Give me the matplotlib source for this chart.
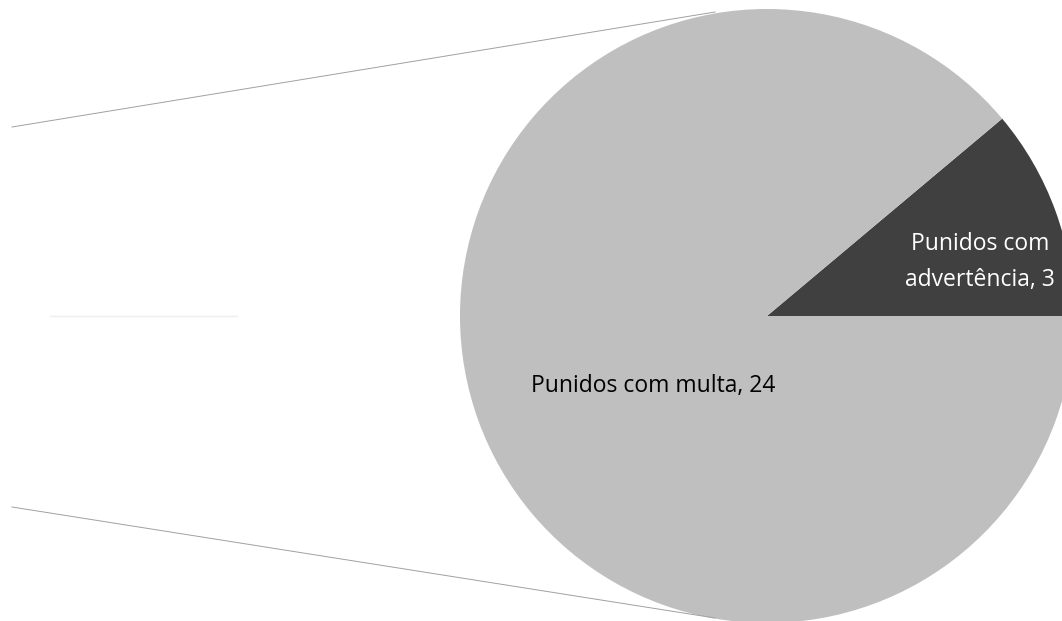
import matplotlib
matplotlib.use("Agg")
import matplotlib.pyplot as plt

# data
categories = ["Punidos com advertência", "Punidos com multa"]
values = [3, 24]
colors = ["#404040", "#bfbfbf"]
text_colors = ["white", "black"]

W, H = 1062, 621
fig = plt.figure(figsize=(W / 100, H / 100), dpi=100)
ax = fig.add_axes([0, 0, 1, 1])

# main pie (pixel coords, y flipped)
cx, cy, r = 767, H - 316, 307
ax.pie(values, colors=colors, startangle=0, counterclock=True,
       center=(cx, cy), radius=r, frame=True,
       wedgeprops=dict(linewidth=0))
ax.set_xlim(0, W)
ax.set_ylim(0, H)
ax.set_aspect("equal")
ax.axis("off")

# connector lines to the (off-screen) secondary pie
ax.plot([12, 715], [H - 127, H - 12], color="#a0a0a0", lw=0.7)
ax.plot([12, 715], [H - 507, H - 618], color="#a0a0a0", lw=0.7)
ax.plot([50, 237], [H - 316, H - 316], color="#eeeeee", lw=1)

# labels
label_pos = [(980, 262), (653, 386)]
for cat, v, (lx, ly), tc in zip(categories, values, label_pos, text_colors):
    if v == 3:
        txt = "Punidos com\nadvertência, %d" % v
    else:
        txt = "%s, %d" % (cat, v)
    ax.text(lx, H - ly, txt, ha="center", va="center", color=tc,
            fontsize=16.5, family=["Open Sans", "DejaVu Sans"], linespacing=1.65)

fig.savefig("out.png", dpi=100)
